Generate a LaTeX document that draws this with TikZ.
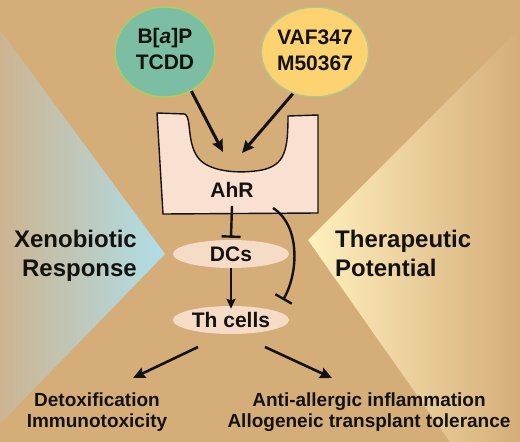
\documentclass[tikz,border=0pt]{standalone}
\usepackage{fontspec}
\setmainfont{Liberation Sans}
\usetikzlibrary{arrows.meta,shapes.geometric}
\definecolor{bg}{RGB}{213,173,121}
\definecolor{lblue}{RGB}{175,222,232}
\definecolor{lgray}{RGB}{205,180,145}
\definecolor{pyellow}{RGB}{255,241,190}
\definecolor{cgreen}{RGB}{124,190,164}
\definecolor{cgreenb}{RGB}{172,206,92}
\definecolor{cyellow}{RGB}{253,210,112}
\definecolor{cyellowb}{RGB}{176,196,140}
\definecolor{boxfill}{RGB}{250,224,208}
\definecolor{ellfill}{RGB}{246,219,199}
\definecolor{ink}{RGB}{20,18,16}
\tikzset{
  ligand/.style={ellipse, draw, line width=1.5pt, minimum width=100pt, minimum height=90pt, inner sep=0pt, align=center, text=ink, font=\fontsize{21}{26}\selectfont\bfseries},
  cell/.style={ellipse, fill=ellfill, minimum width=116pt, minimum height=28pt, inner sep=0pt, text=ink, font=\fontsize{21}{26}\selectfont\bfseries},
  bigtxt/.style={inner sep=0pt, text=ink, font=\fontsize{24}{29.5}\selectfont\bfseries},
  outtxt/.style={inner sep=0pt, align=center, text=ink, font=\fontsize{19}{21}\selectfont\bfseries},
  arr/.style={draw=ink, line width=3pt, -{Stealth[length=12pt,width=11pt,inset=1.5pt]}},
  arrsm/.style={draw=ink, line width=2.4pt, -{Stealth[length=10pt,width=9pt,inset=1.5pt]}},
  inhib/.style={draw=ink, line width=2.4pt, -{Bar[width=19pt,line width=2.4pt]}}
}
\begin{document}
\begin{tikzpicture}[x=1pt,y=-1pt]
\useasboundingbox (0,0) rectangle (520,442);
\fill[bg] (0,0) rectangle (520,442);
% side gradients
\shade[left color=lgray, right color=lblue] (0,30) -- (165,254) -- (0,424) -- cycle;
\shade[left color=pyellow, right color=bg] (308,240) -- (520,28) -- (520,442) -- (450,442) -- cycle;
% ligands
\node[ligand, fill=cgreen, draw=cgreenb, text depth=7pt] (g) at (165,52) {B[\textit{a}]P\\TCDD};
\node[ligand, fill=cyellow, draw=cyellowb, text depth=3pt] (y) at (315,52) {VAF347\\M50367};
% AhR receptor box
\draw[fill=boxfill, draw=ink, line width=1.4pt]
  (157,113) -- (185,114)
  .. controls (192,118) and (186,145) .. (200,160)
  .. controls (212,172) and (240,174) .. (262,170)
  .. controls (285,165) and (288,150) .. (288,116)
  -- (318,115) -- (318,213) -- (163,214) -- cycle;
\node[inner sep=0pt, inner ysep=8pt, text=ink, font=\fontsize{21}{26}\selectfont\bfseries] (ahr) at (232,190) {AhR};
\coordinate (pg) at (223,152);
\coordinate (py) at (242,153);
\coordinate (cs) at (273,208);
\coordinate (ce) at (283,300);
% cells
\node[cell] (dcs) at (231,254) {DCs};
\node[cell] (th) at (231,320) {Th cells};
% connectors
\draw[arr] (g.-56) -- (pg);
\draw[arr] (y.-118) -- (py);
\draw[inhib] (ahr.south) -- ([yshift=2pt]dcs.north);
\draw[arrsm] (dcs.south) -- ([yshift=-3pt]th.north);
\draw[inhib] (cs) .. controls (300,225) and (299,272) .. (ce);
% side labels
\node[bigtxt, anchor=north east, align=right] (xeno) at (137,229.5) {Xenobiotic\\Response};
\node[bigtxt, anchor=north west, align=left] (ther) at (335,229.5) {Therapeutic\\Potential};
% outcomes
\node[outtxt, anchor=north] (det) at (97,393) {Detoxification\\Immunotoxicity};
\node[outtxt, anchor=north] (anti) at (369,393) {Anti-allergic inflammation\\Allogeneic transplant tolerance};
\coordinate (l1) at (198,347);
\coordinate (l2) at (133,378);
\coordinate (r1) at (265,347);
\coordinate (r2) at (332,378);
\draw[arr, line width=2.6pt] (l1) -- (l2);
\draw[arr, line width=2.6pt] (r1) -- (r2);
\end{tikzpicture}
\end{document}
